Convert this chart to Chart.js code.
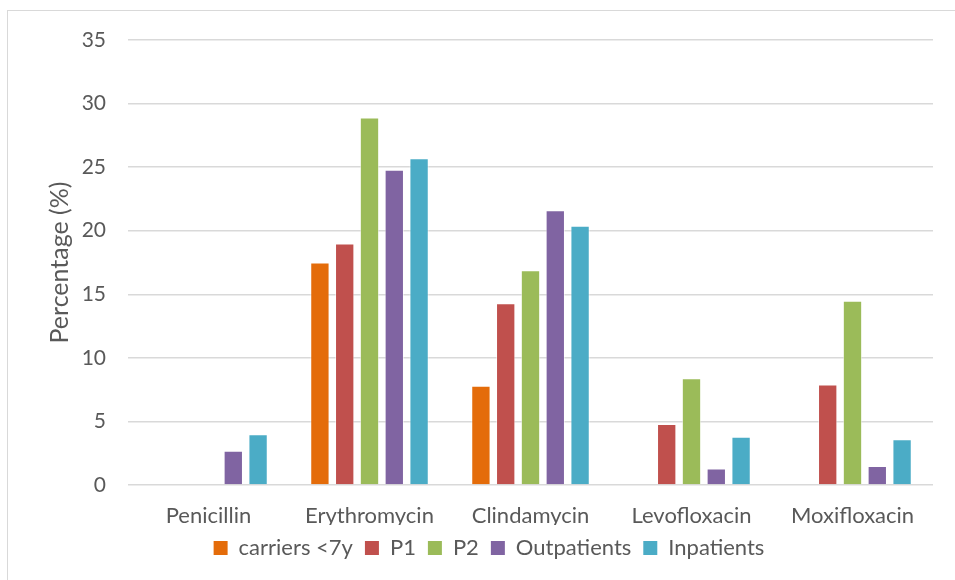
<!DOCTYPE html>
<html>
<head>
<meta charset="utf-8">
<script src="https://cdn.jsdelivr.net/npm/chart.js@4/dist/chart.umd.min.js"></script>
<style>
  html, body { margin: 0; padding: 0; background: #fff; }
  #wrap { position: relative; width: 955px; height: 580px; overflow: hidden; }
  #frame { position: absolute; left: 7px; top: 10px; width: 1000px; height: 600px;
           border: 1px solid #d9d9d9; box-sizing: border-box; }
  canvas { position: absolute; left: 0; top: 0; }
</style>
</head>
<body>
<div id="wrap">
  <div id="frame"></div>
  <canvas id="c" width="955" height="580"></canvas>
</div>
<script>
// Resistance rates by antibiotic and population group
const antibiotics = ['Penicillin', 'Erythromycin', 'Clindamycin', 'Levofloxacin', 'Moxifloxacin'];
const carriersUnder7 = [null, 17.5, 7.8, null, null];
const p1 = [null, 19.0, 14.3, 4.8, 7.9];
const p2 = [null, 28.9, 16.9, 8.4, 14.5];
const outpatients = [2.7, 24.8, 21.6, 1.3, 1.5];
const inpatients = [4.0, 25.7, 20.4, 3.8, 3.6];
const yTicks = [0, 5, 10, 15, 20, 25, 30, 35];

const seriesNames = ['carriers <7y', 'P1', 'P2', 'Outpatients', 'Inpatients'];
const seriesData = [carriersUnder7, p1, p2, outpatients, inpatients];
const seriesColors = ['#E46C0A', '#C0504D', '#9BBB59', '#8064A2', '#4BACC6'];

const FONT = 'Lato, "Open Sans", sans-serif';
const TEXT = '#595959';

new Chart(document.getElementById('c'), {
  type: 'bar',
  data: {
    labels: antibiotics,
    datasets: seriesNames.map((name, i) => ({
      label: name,
      data: seriesData[i],
      backgroundColor: seriesColors[i],
      borderColor: 'rgba(255,255,255,0.55)',
      borderWidth: 1,
      categoryPercentage: 0.77,
      barPercentage: 0.78
    }))
  },
  options: {
    responsive: false,
    animation: false,
    devicePixelRatio: 1,
    layout: { padding: { left: 45, right: 22, top: 40, bottom: 11 } },
    plugins: {
      tooltip: { enabled: false },
      legend: {
        position: 'bottom',
        labels: {
          font: { family: FONT, size: 22 },
          color: TEXT,
          boxWidth: 14,
          boxHeight: 14,
          padding: 12,
          generateLabels(chart) {
            return chart.data.datasets.map((ds, i) => ({
              text: ds.label,
              fillStyle: ds.backgroundColor,
              strokeStyle: ds.backgroundColor,
              lineWidth: 0,
              hidden: false,
              datasetIndex: i,
              fontColor: TEXT
            }));
          }
        }
      }
    },
    scales: {
      x: {
        grid: { display: false, drawTicks: false },
        border: { display: false },
        ticks: { font: { family: FONT, size: 22 }, color: TEXT, padding: 18 },
        afterFit(scale) { scale.height = 40; }
      },
      y: {
        min: 0,
        max: 35,
        afterBuildTicks(scale) { scale.ticks = yTicks.map(v => ({ value: v })); },
        grid: { color: '#d9d9d9', lineWidth: 1.5, drawTicks: false },
        border: { display: false },
        ticks: { font: { family: FONT, size: 21 }, color: TEXT, padding: 22 },
        title: {
          display: true,
          text: 'Percentage (%)',
          font: { family: FONT, size: 25 },
          color: TEXT,
          padding: { top: 0, bottom: 0 }
        },
        afterFit(scale) { scale.width = 83; }
      }
    }
  }
});
</script>
</body>
</html>
